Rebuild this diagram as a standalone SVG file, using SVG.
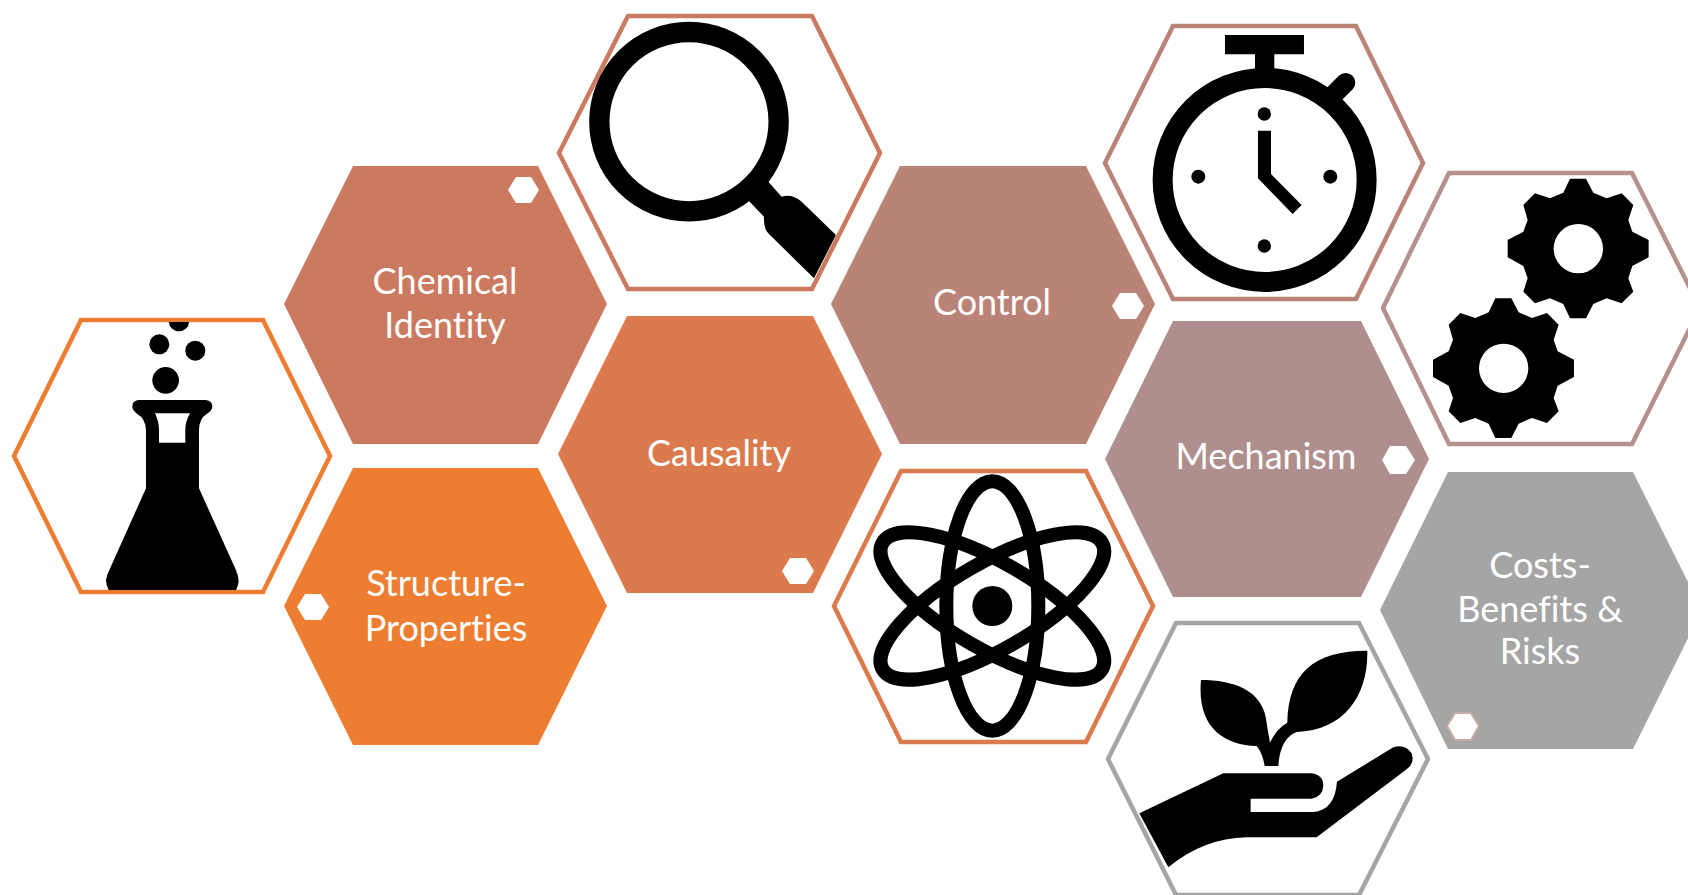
<svg xmlns="http://www.w3.org/2000/svg" xmlns:xlink="http://www.w3.org/1999/xlink" width="1688" height="895" viewBox="0 0 1688 895">
<style>
text{font-family:"Lato","Noto Sans","Liberation Sans",sans-serif;font-size:36px;fill:#fff;text-anchor:middle;font-variant-ligatures:none}
.o{fill:#fff;stroke-width:4.5;stroke-linejoin:miter}
.d{fill:#fff}
.k{fill:#000}
.z{fill:#000;fill-rule:evenodd}
.r{fill:none;stroke:#000}
</style>
<defs>
<path id="gear" class="z" d="M-25-210H23L45-168L85-151L130-166L165-131L150-86L162-51L211-26V26L162 52L150 89L165 129L130 164L85 149L45 166L23 209H-25L-45 166L-85 149L-130 164L-165 129L-152 89L-165 52L-212 26V-26L-165-51L-152-86L-165-131L-130-166L-85-151L-45-168ZM74 0A74 74 0 1 0 -74 0A74 74 0 1 0 74 0Z"/>
</defs>
<g id="node-flask">
<polygon class="o" stroke="#ED7D31" points="14,456 81,320 263,320 330,456 263,592 81,592"/>
<g transform="translate(0 290) scale(.3333)">
<circle class="k" cx="478" cy="163" r="30"/><circle class="k" cx="586" cy="182" r="30"/><circle class="k" cx="497" cy="271" r="40"/>
<path class="k" d="M507 96A30 28 0 0 0 567 96Z"/>
<path class="z" d="M415 330H618Q637 332 637 350Q637 362 620 372Q598 385 597 420V595L708 840Q716 858 716 875Q714 890 708 900H326Q318 885 318 870Q320 855 328 840L438 595V420Q436 385 412 372Q397 360 397 350Q397 332 415 330ZM465 370H570Q556 395 556 420V458H477V420Q477 395 465 370Z"/>
</g>
</g>
<g id="node-chemical-identity">
<polygon fill="#CB7A5F" points="284,304 353,166 538,166 607,304 538,444 353,444"/>
<polygon class="d" points="508,190 516,177 531,177 539,190 531,203 516,203"/>
<text x="445" y="294">Chemical</text><text x="445" y="338">Identity</text>
</g>
<g id="node-structure-properties">
<polygon fill="#ED7D31" points="284,606 353,468 538,468 607,606 538,745 353,745"/>
<polygon class="d" points="297,607 305,594 321,594 329,607 321,620 305,620"/>
<text x="446" y="596">Structure-</text><text x="446" y="641">Properties</text>
</g>
<g id="node-magnifier">
<polygon class="o" stroke="#CB7A5F" points="559,153 628,16 812,16 880,153 812,289 628,289"/>
<g transform="translate(550 0) scale(.3333)">
<circle class="r" cx="417" cy="365" r="269" stroke-width="61"/>
<path class="k" d="M655 545L695 590Q725 580 755 605L858 705L792 835L660 705Q640 690 642 650L597 603Z"/>
</g>
</g>
<g id="node-causality">
<polygon fill="#DB7A4C" points="558,454 627,316 813,316 882,454 813,593 627,593"/>
<polygon class="d" points="782,571 790,558 806,558 814,571 806,584 790,584"/>
<text x="719" y="466">Causality</text>
</g>
<g id="node-control">
<polygon fill="#BA8377" points="831,304 900,166 1086,166 1155,304 1086,444 900,444"/>
<polygon class="d" points="1112,306 1120,293 1136,293 1144,306 1136,319 1120,319"/>
<text x="992" y="315">Control</text>
</g>
<g id="node-atom">
<polygon class="o" stroke="#DB7A4C" points="834,606 901,471 1086,471 1153,606 1086,742 901,742"/>
<g transform="translate(830 460) scale(.3333)">
<circle class="k" cx="487" cy="438" r="60"/>
<ellipse class="r" cx="487" cy="438" rx="138" ry="374" stroke-width="42"/>
<ellipse class="r" cx="487" cy="438" rx="130" ry="380" stroke-width="42" transform="rotate(60 487 438)"/>
<ellipse class="r" cx="487" cy="438" rx="130" ry="380" stroke-width="42" transform="rotate(-60 487 438)"/>
</g>
</g>
<g id="node-stopwatch">
<polygon class="o" stroke="#BA8377" points="1105,163 1173,26 1356,26 1423,163 1356,299 1173,299"/>
<g transform="translate(1100 10) scale(.3333)">
<circle class="r" cx="494" cy="510" r="306" stroke-width="60"/>
<path class="k" d="M375 75H612V133H523V190H465V133H375Z"/>
<path class="r" d="M700 255L737 218" stroke-width="58" stroke-linecap="round"/>
<circle class="k" cx="493" cy="312" r="20"/><circle class="k" cx="295" cy="500" r="21"/><circle class="k" cx="691" cy="500" r="21"/><circle class="k" cx="493" cy="708" r="20"/>
<path class="k" d="M474 362H513V492L605 585L578 612L474 505Z"/>
</g>
</g>
<g id="node-mechanism">
<polygon fill="#AE8F8D" points="1105,459 1173,321 1361,321 1429,459 1361,597 1173,597"/>
<polygon class="d" points="1382,460 1390,446 1406,446 1415,460 1406,474 1390,474"/>
<text x="1266" y="469">Mechanism</text>
</g>
<g id="node-gears">
<polygon class="o" stroke="#B5918B" points="1383,308 1449,173 1632,173 1700,308 1632,444 1449,444"/>
<g transform="translate(1380 160) scale(.3333)">
<use xlink:href="#gear" href="#gear" x="595" y="266"/>
<use xlink:href="#gear" href="#gear" x="371" y="625"/>
</g>
</g>
<g id="node-plant">
<polygon class="o" stroke="#A5A5A5" points="1108,759 1176,623 1359,623 1428,759 1359,895 1176,895"/>
<g transform="translate(1100 610) scale(.3333)">
<path class="k" d="M303 210C400 210 480 240 497 320Q503 360 510 398Q530 355 562 338C565 190 640 122 802 122C805 260 730 362 590 366Q540 385 535 468H494Q488 430 470 408C370 405 290 350 303 210Z"/>
<path class="k" d="M118 610L370 490H635Q670 495 670 527Q668 560 635 566H452V606H640Q705 600 711 515L880 412Q915 400 935 430Q945 460 920 478L650 682H440Q310 685 205 772Z"/>
</g>
</g>
<g id="node-costs">
<polygon fill="#A5A5A5" points="1380,610 1448,472 1633,472 1702,610 1633,749 1448,749"/>
<polygon class="d" stroke="#C9A9A6" stroke-width="2" points="1447,726 1455,713 1471,713 1479,726 1471,740 1455,740"/>
<text x="1540" y="578">Costs-</text><text x="1540" y="622">Benefits &amp;</text><text x="1540" y="664">Risks</text>
</g>
</svg>
